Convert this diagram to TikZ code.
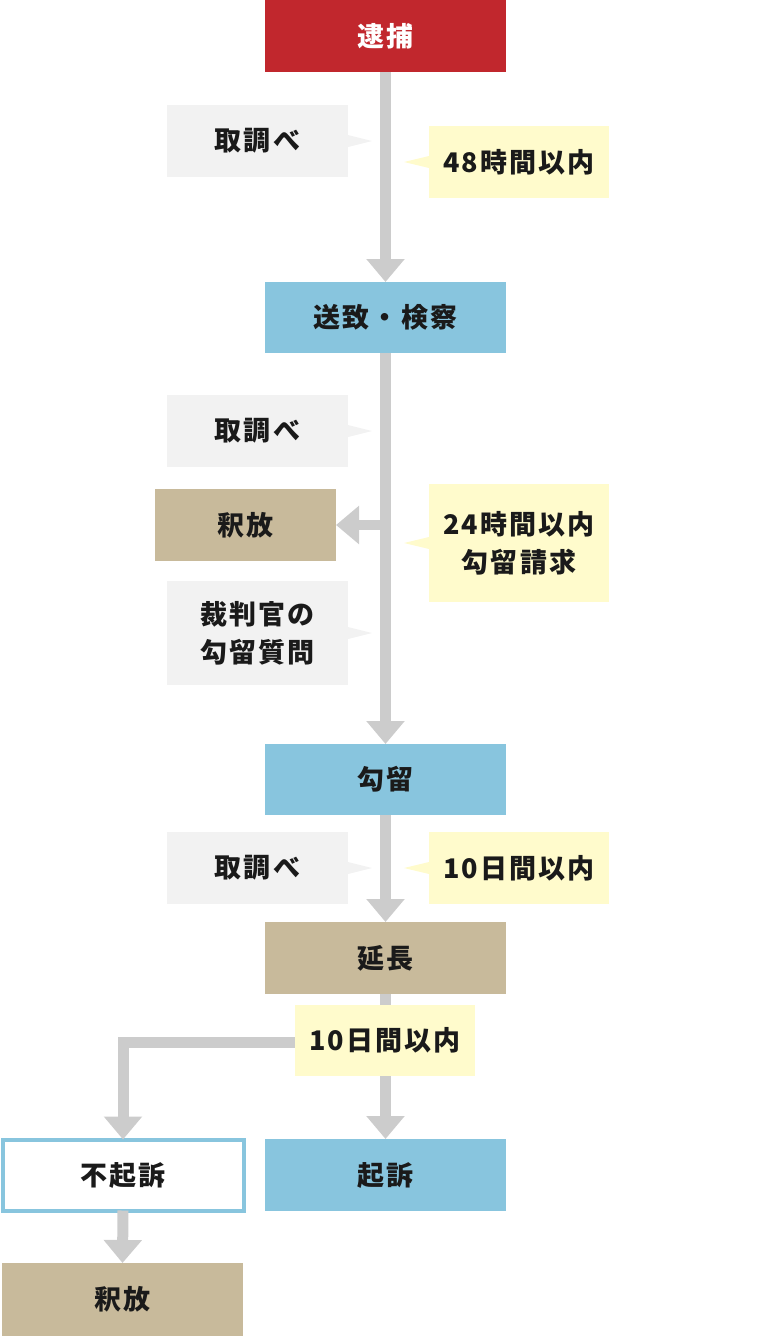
\documentclass[tikz,border=0pt]{standalone}
\usepackage{fontspec}
\setmainfont{Noto Sans CJK JP}[LetterSpace=8]
\usetikzlibrary{arrows.meta,calc}
\definecolor{cred}{HTML}{C1272D}
\definecolor{cblue}{HTML}{88C5DE}
\definecolor{ctan}{HTML}{C8BA9B}
\definecolor{cyel}{HTML}{FFFBCC}
\definecolor{cgray}{HTML}{F2F2F2}
\definecolor{carrow}{HTML}{CCCCCC}
\definecolor{ctxt}{HTML}{1A1A1A}
\newcommand\mylbl{\fontsize{27}{38}\selectfont\bfseries}
\begin{document}
\begin{tikzpicture}[x=1pt,y=-1pt,
  box/.style={minimum width=241pt,minimum height=72pt,inner sep=0pt,outer sep=0pt,font=\mylbl,text=ctxt,align=center},
  redbox/.style={box,fill=cred,text=white},
  bluebox/.style={box,fill=cblue},
  tanbox/.style={box,fill=ctan},
  whitebox/.style={box,fill=white,draw=cblue,line width=4pt,minimum width=241pt,minimum height=71pt},
  callL/.style={box,fill=cgray,minimum width=181pt},
  callR/.style={box,fill=cyel,minimum width=180pt},
  arr/.style={draw=carrow,line width=11pt,-{Triangle[width=37pt,length=23pt]}},
  ptrL/.style={fill=cgray},
  ptrR/.style={fill=cyel}]
\useasboundingbox (0,0) rectangle (768,1336);
% main boxes
\node[redbox] (arrest) at (385.5,36) {逮捕};
\node[bluebox,minimum height=71pt] (sochi) at (385.5,317.5) {送致・検察};
\node[tanbox,minimum width=181pt] (shaku1) at (245.5,525) {釈放};
\node[bluebox,minimum height=71pt] (koryu) at (385.5,779.5) {勾留};
\node[tanbox] (encho) at (385.5,958) {延長};
\node[bluebox] (kiso) at (385.5,1175) {起訴};
\node[whitebox] (fukiso) at (123,1175) {不起訴};
\node[tanbox,minimum height=73pt] (shaku2) at (122.5,1299.5) {釈放};
% junctions
\coordinate (j1) at (385.5,525);
\coordinate (j2) at (385.5,1042);
% arrows
\draw[arr] (arrest.south) -- (sochi.north);
\draw[arr] (sochi.south) -- (koryu.north);
\draw[arr,line width=10pt] (j1) -- (shaku1.east);
\draw[arr] (koryu.south) -- (encho.north);
\draw[arr] (encho.south) -- (kiso.north);
\draw[arr] (j2) -- (j2 -| fukiso.north) -- (fukiso.north);
\draw[arr] (fukiso.south) -- (shaku2.north);
% callouts left
\node[callL] (tori1) at (257.5,141) {取調べ};
\fill[ptrL] ($(tori1.east)+(0,-6)$) -- ($(tori1.east)+(24,0)$) -- ($(tori1.east)+(0,6)$) -- cycle;
\node[callL] (tori2) at (257.5,431) {取調べ};
\fill[ptrL] ($(tori2.east)+(0,-6)$) -- ($(tori2.east)+(24,0)$) -- ($(tori2.east)+(0,6)$) -- cycle;
\node[callL,minimum height=104pt] (saiban) at (257.5,633) {裁判官の\\勾留質問};
\fill[ptrL] ($(saiban.east)+(0,-6)$) -- ($(saiban.east)+(24,0)$) -- ($(saiban.east)+(0,6)$) -- cycle;
\node[callL] (tori3) at (257.5,868) {取調べ};
\fill[ptrL] ($(tori3.east)+(0,-6)$) -- ($(tori3.east)+(24,0)$) -- ($(tori3.east)+(0,6)$) -- cycle;
% callouts right
\node[callR] (h48) at (519,162) {48時間以内};
\fill[ptrR] ($(h48.west)+(0,-6)$) -- ($(h48.west)+(-25,0)$) -- ($(h48.west)+(0,6)$) -- cycle;
\node[callR,minimum height=118pt] (h24) at (519,543) {24時間以内\\勾留請求};
\fill[ptrR] ($(h24.west)+(0,-6)$) -- ($(h24.west)+(-25,0)$) -- ($(h24.west)+(0,6)$) -- cycle;
\node[callR] (d10a) at (519,868) {10日間以内};
\fill[ptrR] ($(d10a.west)+(0,-6)$) -- ($(d10a.west)+(-25,0)$) -- ($(d10a.west)+(0,6)$) -- cycle;
\node[callR,minimum height=71pt] (d10b) at (385,1040.5) {10日間以内};
\end{tikzpicture}
\end{document}
